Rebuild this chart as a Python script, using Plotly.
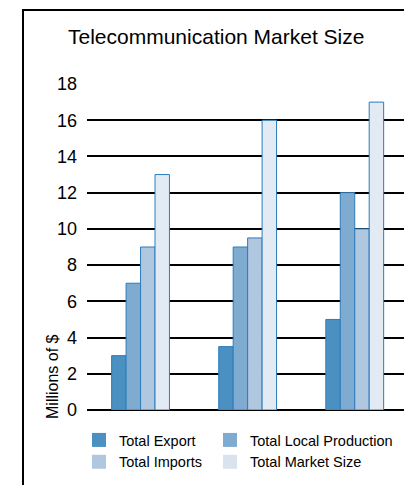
import plotly.graph_objects as go

categories = ["Group 1", "Group 2", "Group 3"]
series_names = ["Total Export", "Total Local Production", "Total Imports", "Total Market Size"]
total_export = [3, 3.5, 5]
total_local_production = [7, 9, 12]
total_imports = [9, 9.5, 10]
total_market_size = [13, 16, 17]
y_ticks = [0, 2, 4, 6, 8, 10, 12, 14, 16, 18]

values = [total_export, total_local_production, total_imports, total_market_size]
colors = ["#4a91c1", "#80abd0", "#b0c7e0", "#e2eaf3"]
legend_colors = ["#4a91c1", "#80abd0", "#b0c7e0", "#d9e3ee"]
legend_ids = ["legend", "legend2", "legend", "legend2"]
outline = "#2a7cba"

W, H = 404, 485
ml, mr, mt, mb = 87, 0, 84, 75

fig = go.Figure()
for name, vals, c in zip(series_names, values, colors):
    fig.add_trace(go.Bar(x=categories, y=vals, name=name, showlegend=False,
                         marker=dict(color=c, line=dict(color=outline, width=1))))
for name, c, lg in zip(series_names, legend_colors, legend_ids):
    fig.add_trace(go.Scatter(x=[None], y=[None], mode="markers", name=name, legend=lg,
                             marker=dict(symbol="square", size=14, color=c)))

pw = W - ml - mr
ph = H - mt - mb
def px_x(x):
    return (x - ml) / pw
def px_y(y_top):
    return (H - mb - y_top) / ph

legend_common = dict(orientation="v", xanchor="left", yanchor="top",
                     font=dict(size=14.5), itemwidth=30, bgcolor="rgba(0,0,0,0)",
                     tracegroupgap=0)

fig.update_layout(
    width=W, height=H,
    margin=dict(l=ml, r=mr, t=mt, b=mb, autoexpand=False),
    paper_bgcolor="white", plot_bgcolor="white",
    barmode="group", bargap=0.46, bargroupgap=0,
    font=dict(family="Liberation Sans, Arial, sans-serif", color="black"),
    xaxis=dict(range=[-0.5, 2.46], showticklabels=False, showgrid=False,
               zeroline=False, showline=False, ticks=""),
    yaxis=dict(range=[0, 18], tickvals=y_ticks, showgrid=True, gridcolor="black",
               gridwidth=2, zeroline=True, zerolinecolor="black", zerolinewidth=2,
               ticks="", ticklabelstandoff=9, tickfont=dict(size=18)),
    showlegend=True,
    legend=dict(x=px_x(79), y=px_y(424), **legend_common),
    legend2=dict(x=px_x(210), y=px_y(424), **legend_common),
    annotations=[
        dict(text="Telecommunication Market Size", xref="paper", yref="paper",
             x=px_x(216), y=px_y(37), xanchor="center", yanchor="middle",
             showarrow=False, font=dict(size=21)),
        dict(text="Millions of $", xref="paper", yref="paper", textangle=-90,
             x=px_x(52), y=px_y(377), xanchor="center", yanchor="middle",
             showarrow=False, font=dict(size=16)),
    ],
    shapes=[
        dict(type="line", xref="paper", yref="paper", x0=px_x(23), x1=px_x(23),
             y0=px_y(10), y1=px_y(H), line=dict(color="black", width=2)),
        dict(type="line", xref="paper", yref="paper", x0=px_x(22), x1=px_x(W),
             y0=px_y(10), y1=px_y(10), line=dict(color="black", width=2)),
    ],
)

fig.write_html("out.html")
